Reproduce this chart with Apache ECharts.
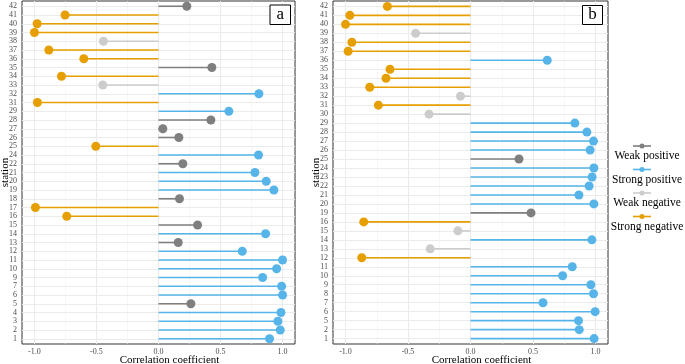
<!DOCTYPE html>
<html>
<head>
<meta charset="utf-8">
<script src="https://cdn.jsdelivr.net/npm/echarts@6/dist/echarts.min.js"></script>
<style>
html, body { margin: 0; padding: 0; background: #fff; }
#main { width: 685px; height: 364px; }
</style>
</head>
<body>
<div id="main"></div>
<script>
// stations listed bottom -> top
var stationsA = [1, 2, 3, 4, 5, 6, 7, 9, 10, 11, 12, 13, 14, 15, 16, 17, 18, 19, 20, 21, 22, 24, 25, 26, 27, 28, 29, 31, 32, 33, 34, 35, 36, 37, 38, 39, 40, 41, 42];
var valuesA = [0.895, 0.981, 0.962, 0.987, 0.261, 1.0, 0.992, 0.839, 0.952, 1.0, 0.675, 0.159, 0.863, 0.315, -0.739, -0.992, 0.169, 0.930, 0.868, 0.777, 0.196, 0.806, -0.505, 0.164, 0.035, 0.422, 0.567, -0.976, 0.809, -0.449, -0.782, 0.430, -0.602, -0.884, -0.444, -1.0, -0.978, -0.753, 0.228];

var stationsB = [1, 2, 5, 6, 7, 8, 9, 10, 11, 12, 13, 14, 15, 16, 19, 20, 21, 22, 23, 24, 25, 26, 27, 28, 29, 30, 31, 32, 33, 34, 35, 36, 37, 38, 39, 40, 41, 42];
var valuesB = [0.989, 0.870, 0.864, 0.997, 0.580, 0.984, 0.963, 0.737, 0.814, -0.870, -0.322, 0.971, -0.101, -0.854, 0.484, 0.987, 0.867, 0.949, 0.973, 0.987, 0.388, 0.957, 0.984, 0.931, 0.835, -0.332, -0.737, -0.080, -0.806, -0.676, -0.644, 0.614, -0.979, -0.949, -0.439, -1.0, -0.965, -0.665];

var xTicks = [-1, -0.5, 0, 0.5, 1];
var xMinor = [-0.75, -0.25, 0.25, 0.75];

var classNames = ['Weak positive', 'Strong positive', 'Weak negative', 'Strong negative'];
var classColors = ['#7f7f7f', '#56B4E9', '#cccccc', '#E69F00'];

var FONT = 'Liberation Serif';

function colorOf(v) {
    if (v >= 0.5) return classColors[1];
    if (v >= 0) return classColors[0];
    if (v > -0.5) return classColors[2];
    return classColors[3];
}

var myChart = echarts.init(document.getElementById('main'));

var grids = [
    { left: 22, right: 390, top: 1, bottom: 20 },
    { left: 333, right: 77, top: 1, bottom: 20 }
];
var panels = [
    { stations: stationsA, values: valuesA },
    { stations: stationsB, values: valuesB }
];

var xAxes = [], yAxes = [], series = [];

panels.forEach(function (p, k) {
    var idx = p.stations.map(function (s, i) { return i; });
    xAxes.push({
        gridIndex: k,
        type: 'value',
        min: -1.1,
        max: 1.1,
        axisLine: { show: false },
        axisTick: { show: true, length: 3, customValues: xTicks, lineStyle: { color: '#333' } },
        axisLabel: {
            customValues: xTicks,
            formatter: function (v) { return v.toFixed(1); },
            fontFamily: FONT, fontSize: 8, color: '#4d4d4d', margin: 4
        },
        splitLine: { show: false },
        name: 'Correlation coefficient',
        nameLocation: 'middle',
        nameMoveOverlap: false,
        nameGap: 11,
        nameTextStyle: { fontFamily: FONT, fontSize: 11, color: '#000', padding: [0, 0, 0, 22] }
    });
    yAxes.push({
        gridIndex: k,
        type: 'value',
        min: -0.6,
        max: p.stations.length - 0.4,
        axisLine: { show: false },
        axisTick: { show: true, length: 3, customValues: idx, lineStyle: { color: '#333' } },
        axisLabel: {
            customValues: idx,
            formatter: function (v) { return String(p.stations[Math.round(v)]); },
            fontFamily: FONT, fontSize: 8, color: '#4d4d4d', margin: 5
        },
        splitLine: { show: false },
        name: 'station',
        nameLocation: 'middle',
        nameMoveOverlap: false,
        nameRotate: 90,
        nameGap: 11.5,
        nameTextStyle: { fontFamily: FONT, fontSize: 11, color: '#000' }
    });

    var gridLines = [];
    xTicks.forEach(function (v) { gridLines.push({ xAxis: v, lineStyle: { color: '#ebebeb', width: 1 } }); });
    xMinor.forEach(function (v) { gridLines.push({ xAxis: v, lineStyle: { color: '#f2f2f2', width: 0.6 } }); });
    idx.forEach(function (i) { gridLines.push({ yAxis: i, lineStyle: { color: '#ebebeb', width: 1 } }); });

    series.push({
        type: 'line',
        xAxisIndex: k,
        yAxisIndex: k,
        data: [],
        z: 1,
        markLine: {
            silent: true,
            z: 1,
            symbol: ['none', 'none'],
            label: { show: false },
            lineStyle: { type: 'solid' },
            data: gridLines
        }
    });
    series.push({
        type: 'custom',
        xAxisIndex: k,
        yAxisIndex: k,
        z: 3,
        encode: { x: 0, y: 1 },
        data: p.values.map(function (v, i) { return [v, i]; }),
        renderItem: function (params, api) {
            var a = api.coord([0, api.value(1)]);
            var b = api.coord([api.value(0), api.value(1)]);
            return {
                type: 'line',
                shape: { x1: a[0], y1: a[1], x2: b[0], y2: b[1] },
                style: { stroke: colorOf(api.value(0)), lineWidth: 1.6 }
            };
        }
    });
    series.push({
        type: 'scatter',
        xAxisIndex: k,
        yAxisIndex: k,
        z: 4,
        symbolSize: 9,
        data: p.values.map(function (v, i) {
            return { value: [v, i], itemStyle: { color: colorOf(v), opacity: 1 } };
        })
    });
});

// panel tags and legend
var graphics = [];
[['a', 270, 5, 20.5, 19.5], ['b', 582.5, 5.5, 20, 19]].forEach(function (t) {
    graphics.push({
        type: 'rect',
        shape: { x: t[1], y: t[2], width: t[3], height: t[4] },
        style: { fill: '#fff', stroke: '#000', lineWidth: 1 },
        z: 10
    });
    graphics.push({
        type: 'text',
        x: t[1] + t[3] / 2, y: t[2] + t[4] / 2,
        style: { text: t[0], font: '17px "Liberation Serif"', fill: '#000', align: 'center', verticalAlign: 'middle' },
        z: 11
    });
});
classNames.forEach(function (name, i) {
    var y = 146 + i * 23.5;
    graphics.push({
        type: 'line',
        shape: { x1: 633, y1: y, x2: 651, y2: y },
        style: { stroke: classColors[i], lineWidth: 1.6 }
    });
    graphics.push({
        type: 'circle',
        shape: { cx: 642, cy: y, r: 2.5 },
        style: { fill: classColors[i] }
    });
    graphics.push({
        type: 'text',
        x: 647, y: y + 10,
        style: { text: name, font: '11.5px "Liberation Serif"', fill: '#000', align: 'center', verticalAlign: 'middle' }
    });
});

var option = {
    animation: false,
    backgroundColor: '#fff',
    grid: grids.map(function (g) {
        return Object.assign({
            show: true, borderColor: '#333', borderWidth: 1, backgroundColor: '#fff',
            containLabel: false, outerBoundsMode: 'none'
        }, g);
    }),
    xAxis: xAxes,
    yAxis: yAxes,
    series: series,
    graphic: graphics
};

myChart.setOption(option);
</script>
</body>
</html>
